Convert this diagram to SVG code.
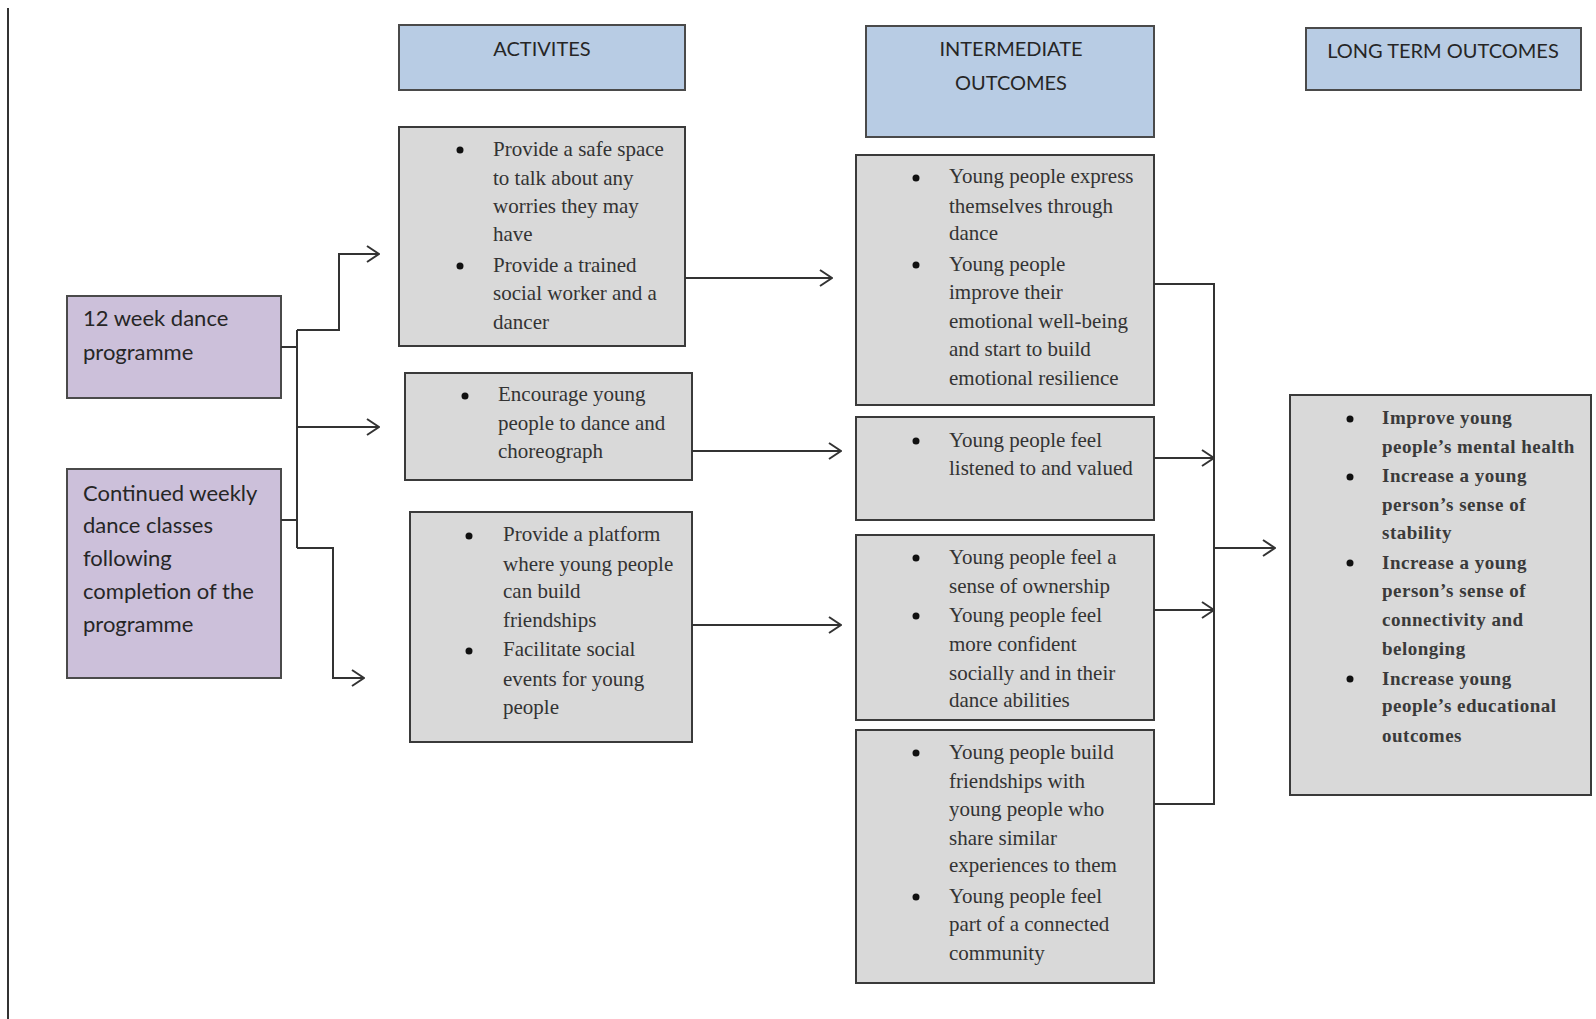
<svg xmlns="http://www.w3.org/2000/svg" width="1596" height="1019" viewBox="0 0 1596 1019">
<defs>
<style>
.hdr{fill:#b8cce4;stroke:#4a4a4a;stroke-width:2}
.prp{fill:#ccc0da;stroke:#4a4a4a;stroke-width:2}
.box{fill:#d9d9d9;stroke:#3a3a3a;stroke-width:2}
.sans{font-family:Lato,"Liberation Sans",sans-serif;fill:#262626}
.h{font-size:20px;text-anchor:middle}
.p{font-size:22px}
.ser{font-family:"Liberation Serif","Times New Roman",serif;font-size:21px;fill:#333}
.lt{font-family:"Liberation Serif","Times New Roman",serif;font-size:19px;font-weight:bold;letter-spacing:0.5px;fill:#3a3a3a}
.bul{fill:#111}
.con{fill:none;stroke:#333;stroke-width:2}
</style>
<marker id="arr" markerUnits="userSpaceOnUse" markerWidth="14" markerHeight="18" refX="13" refY="9" orient="auto">
<path d="M1,1 L13,9 L1,17" fill="none" stroke="#333" stroke-width="2"/>
</marker>
</defs>
<rect width="1596" height="1019" fill="#fff"/>
<line x1="8" y1="8" x2="8" y2="1019" stroke="#333" stroke-width="2"/>

<g id="hdr-activities">
<rect class="hdr" x="399" y="25" width="286" height="65"/>
<text class="sans h" x="542" y="56">ACTIVITES</text>
</g>
<g id="hdr-intermediate">
<rect class="hdr" x="866" y="26" width="288" height="111"/>
<text class="sans h" x="1011" y="56">INTERMEDIATE</text>
<text class="sans h" x="1011" y="90">OUTCOMES</text>
</g>
<g id="hdr-longterm">
<rect class="hdr" x="1306" y="28" width="275" height="62"/>
<text class="sans h" x="1443" y="58">LONG TERM OUTCOMES</text>
</g>

<g id="input-12week">
<rect class="prp" x="67" y="296" width="214" height="102"/>
<text class="sans p" x="83" y="326">12 week dance</text>
<text class="sans p" x="83" y="360">programme</text>
</g>
<g id="input-weekly">
<rect class="prp" x="67" y="469" width="214" height="209"/>
<text class="sans p" x="83" y="501">Continued weekly</text>
<text class="sans p" x="83" y="533">dance classes</text>
<text class="sans p" x="83" y="566">following</text>
<text class="sans p" x="83" y="599">completion of the</text>
<text class="sans p" x="83" y="632">programme</text>
</g>

<g id="act-1">
<rect class="box" x="399" y="127" width="286" height="219"/>
<circle class="bul" cx="460" cy="150" r="3.5"/>
<circle class="bul" cx="460" cy="266" r="3.5"/>
<text class="ser" x="493" y="156">Provide a safe space</text>
<text class="ser" x="493" y="185">to talk about any</text>
<text class="ser" x="493" y="213">worries they may</text>
<text class="ser" x="493" y="241">have</text>
<text class="ser" x="493" y="272">Provide a trained</text>
<text class="ser" x="493" y="300">social worker and a</text>
<text class="ser" x="493" y="329">dancer</text>
</g>
<g id="act-2">
<rect class="box" x="405" y="373" width="287" height="107"/>
<circle class="bul" cx="465" cy="396" r="3.5"/>
<text class="ser" x="498" y="401">Encourage young</text>
<text class="ser" x="498" y="430">people to dance and</text>
<text class="ser" x="498" y="458">choreograph</text>
</g>
<g id="act-3">
<rect class="box" x="410" y="512" width="282" height="230"/>
<circle class="bul" cx="469" cy="536" r="3.5"/>
<circle class="bul" cx="469" cy="651" r="3.5"/>
<text class="ser" x="503" y="541">Provide a platform</text>
<text class="ser" x="503" y="571">where young people</text>
<text class="ser" x="503" y="598">can build</text>
<text class="ser" x="503" y="627">friendships</text>
<text class="ser" x="503" y="656">Facilitate social</text>
<text class="ser" x="503" y="686">events for young</text>
<text class="ser" x="503" y="714">people</text>
</g>

<g id="io-1">
<rect class="box" x="856" y="155" width="298" height="250"/>
<circle class="bul" cx="916" cy="178" r="3.5"/>
<circle class="bul" cx="916" cy="265" r="3.5"/>
<text class="ser" x="949" y="183">Young people express</text>
<text class="ser" x="949" y="213">themselves through</text>
<text class="ser" x="949" y="240">dance</text>
<text class="ser" x="949" y="271">Young people</text>
<text class="ser" x="949" y="299">improve their</text>
<text class="ser" x="949" y="328">emotional well-being</text>
<text class="ser" x="949" y="356">and start to build</text>
<text class="ser" x="949" y="385">emotional resilience</text>
</g>
<g id="io-2">
<rect class="box" x="856" y="417" width="298" height="103"/>
<circle class="bul" cx="916" cy="441" r="3.5"/>
<text class="ser" x="949" y="447">Young people feel</text>
<text class="ser" x="949" y="475">listened to and valued</text>
</g>
<g id="io-3">
<rect class="box" x="856" y="535" width="298" height="185"/>
<circle class="bul" cx="916" cy="558" r="3.5"/>
<circle class="bul" cx="916" cy="616" r="3.5"/>
<text class="ser" x="949" y="564">Young people feel a</text>
<text class="ser" x="949" y="593">sense of ownership</text>
<text class="ser" x="949" y="622">Young people feel</text>
<text class="ser" x="949" y="651">more confident</text>
<text class="ser" x="949" y="680">socially and in their</text>
<text class="ser" x="949" y="707">dance abilities</text>
</g>
<g id="io-4">
<rect class="box" x="856" y="730" width="298" height="253"/>
<circle class="bul" cx="916" cy="753" r="3.5"/>
<circle class="bul" cx="916" cy="897" r="3.5"/>
<text class="ser" x="949" y="759">Young people build</text>
<text class="ser" x="949" y="788">friendships with</text>
<text class="ser" x="949" y="816">young people who</text>
<text class="ser" x="949" y="845">share similar</text>
<text class="ser" x="949" y="872">experiences to them</text>
<text class="ser" x="949" y="903">Young people feel</text>
<text class="ser" x="949" y="931">part of a connected</text>
<text class="ser" x="949" y="960">community</text>
</g>

<g id="lt-1">
<rect class="box" x="1290" y="395" width="301" height="400"/>
<circle class="bul" cx="1350" cy="419" r="3.5"/>
<circle class="bul" cx="1350" cy="477" r="3.5"/>
<circle class="bul" cx="1350" cy="563" r="3.5"/>
<circle class="bul" cx="1350" cy="679" r="3.5"/>
<text class="lt" x="1382" y="424">Improve young</text>
<text class="lt" x="1382" y="453">people’s mental health</text>
<text class="lt" x="1382" y="482">Increase a young</text>
<text class="lt" x="1382" y="511">person’s sense of</text>
<text class="lt" x="1382" y="539">stability</text>
<text class="lt" x="1382" y="569">Increase a young</text>
<text class="lt" x="1382" y="597">person’s sense of</text>
<text class="lt" x="1382" y="626">connectivity and</text>
<text class="lt" x="1382" y="655">belonging</text>
<text class="lt" x="1382" y="685">Increase young</text>
<text class="lt" x="1382" y="712">people’s educational</text>
<text class="lt" x="1382" y="742">outcomes</text>
</g>

<g id="connectors">
<path class="con" d="M281,347 H297"/>
<path class="con" d="M281,520 H297"/>
<path class="con" d="M297,330 V548"/>
<path class="con" d="M297,330 H339 V254 H379" marker-end="url(#arr)"/>
<path class="con" d="M297,427 H379" marker-end="url(#arr)"/>
<path class="con" d="M297,548 H333 V678 H364" marker-end="url(#arr)"/>
<path class="con" d="M685,278 H832" marker-end="url(#arr)"/>
<path class="con" d="M692,451 H841" marker-end="url(#arr)"/>
<path class="con" d="M692,625 H841" marker-end="url(#arr)"/>
<path class="con" d="M1154,284 H1214 V804 H1154"/>
<path class="con" d="M1154,458 H1214" marker-end="url(#arr)"/>
<path class="con" d="M1154,610 H1214" marker-end="url(#arr)"/>
<path class="con" d="M1214,548 H1275" marker-end="url(#arr)"/>
</g>
</svg>
